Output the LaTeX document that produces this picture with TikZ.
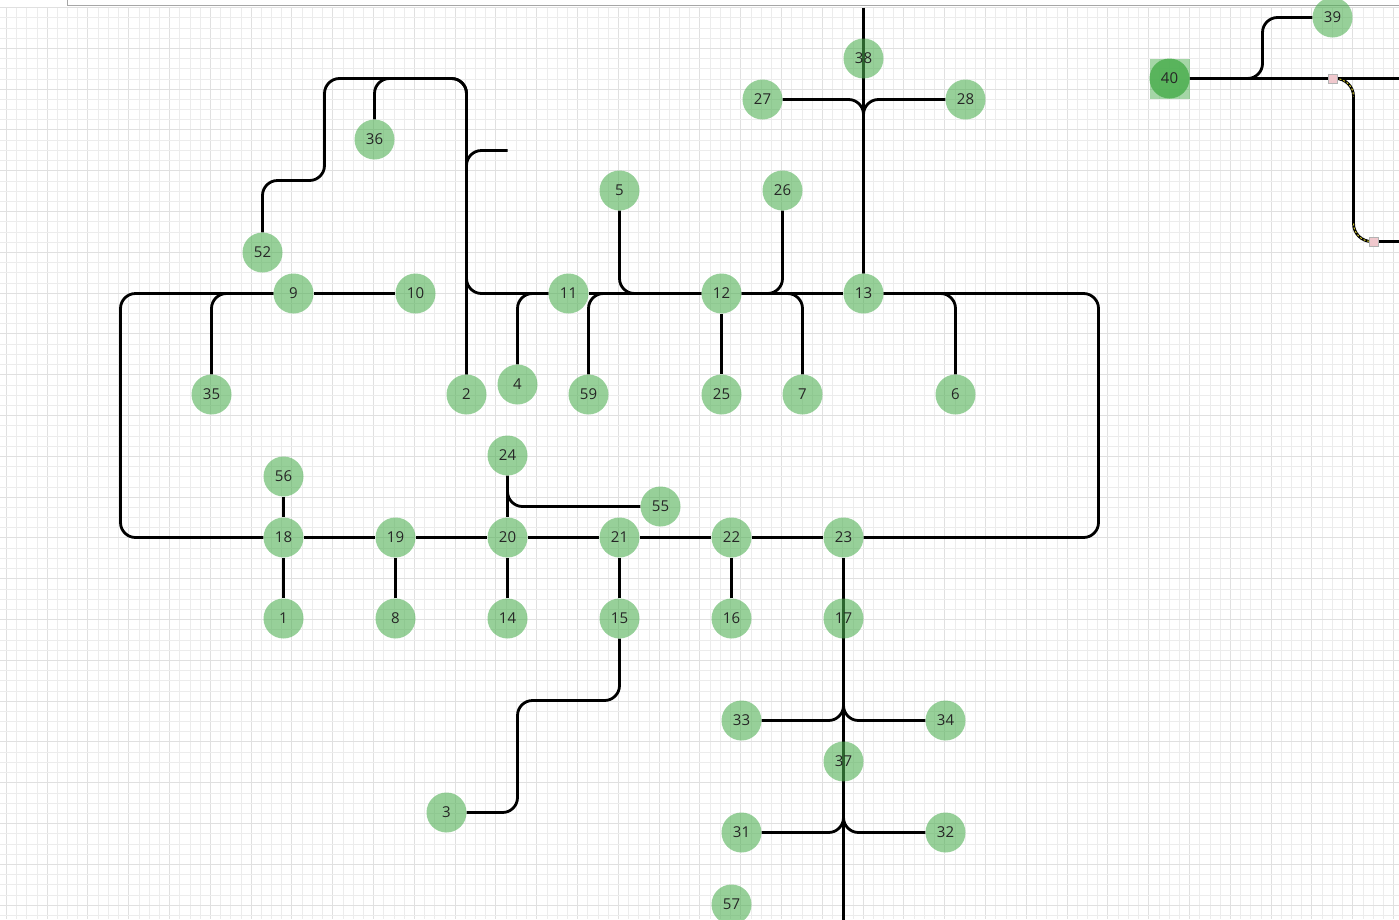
\documentclass[tikz,border=0pt]{standalone}
\usepackage{fontspec}
\setmainfont{Open Sans}
\definecolor{ndgreen}{RGB}{76,175,80}
\definecolor{gridminor}{RGB}{236,236,236}
\definecolor{gridmajor}{RGB}{224,224,224}
\definecolor{selpink}{RGB}{240,200,205}
\begin{document}
\begin{tikzpicture}[x=1pt,y=-1pt,
  nd/.style={circle, minimum size=40pt, inner sep=0pt, fill=ndgreen, fill opacity=0.58, text opacity=1,
             font=\fontsize{15}{17}\selectfont, text=black!85},
  ln/.style={line width=2.8pt, rounded corners=15pt},
  handle/.style={draw=gray!60, fill=selpink, line width=0.6pt, minimum size=9pt, inner sep=0pt, rectangle}
]
\useasboundingbox (0,0) rectangle (1399,919);
\fill[white] (0,0) rectangle (1399,919);
% grid
\foreach \i in {-84,...,52}{
  \pgfmathtruncatemacro\m{mod(\i+400,4)}
  \ifnum\m=0 \draw[gridmajor,line width=0.8pt] ({863+\i*10.2},7) -- ({863+\i*10.2},919);
  \else \draw[gridminor,line width=0.6pt] ({863+\i*10.2},7) -- ({863+\i*10.2},919); \fi
}
\foreach \j in {-28,...,61}{
  \pgfmathtruncatemacro\m{mod(\j+400,4)}
  \ifnum\m=0 \draw[gridmajor,line width=0.8pt] (0,{293+\j*10.2}) -- (1399,{293+\j*10.2});
  \else \draw[gridminor,line width=0.6pt] (0,{293+\j*10.2}) -- (1399,{293+\j*10.2}); \fi
}
% top bar
\fill[white] (0,0) rectangle (1399,5.5);
\draw[gray!70,line width=1pt] (67,0) -- (67,5.5) -- (1399,5.5);

\pgfdeclarelayer{front}
\pgfsetlayers{main,front}
\begin{scope}[shift={(0.5,0.5)}]
\begin{pgfonlayer}{front}
\node[nd] (n38) at (863,58) {38};
\node[nd] (n27) at (762,99) {27};
\node[nd] (n28) at (965,99) {28};
\node[nd] (n39) at (1332,17) {39};
\node[rectangle, minimum size=40pt, inner sep=0pt, fill=ndgreen, fill opacity=0.5] (n40sq) at (1169,78) {};
\node[nd, fill opacity=0.85] (n40) at (1169,78) {40};
\node[nd] (n36) at (374,139) {36};
\node[nd] (n5) at (619,190) {5};
\node[nd] (n26) at (782,190) {26};
\node[nd] (n52) at (262,252) {52};
\node[nd] (n9) at (293,293) {9};
\node[nd] (n10) at (415,293) {10};
\node[nd] (n11) at (568,293) {11};
\node[nd] (n12) at (721,293) {12};
\node[nd] (n13) at (863,293) {13};
\node[nd] (n35) at (211,394) {35};
\node[nd] (n2) at (466,394) {2};
\node[nd] (n4) at (517,384) {4};
\node[nd] (n59) at (588,394) {59};
\node[nd] (n25) at (721,394) {25};
\node[nd] (n7) at (802,394) {7};
\node[nd] (n6) at (955,394) {6};
\node[nd] (n24) at (507,455) {24};
\node[nd] (n55) at (660,506) {55};
\node[nd] (n56) at (283,476) {56};
\node[nd] (n18) at (283,537) {18};
\node[nd] (n19) at (395,537) {19};
\node[nd] (n20) at (507,537) {20};
\node[nd] (n21) at (619,537) {21};
\node[nd] (n22) at (731,537) {22};
\node[nd] (n23) at (843,537) {23};
\node[nd] (n1) at (283,618) {1};
\node[nd] (n8) at (395,618) {8};
\node[nd] (n14) at (507,618) {14};
\node[nd] (n15) at (619,618) {15};
\node[nd] (n16) at (731,618) {16};
\node[nd] (n17) at (843,618) {17};
\node[nd] (n33) at (741,720) {33};
\node[nd] (n34) at (945,720) {34};
\node[nd] (n37) at (843,761) {37};
\node[nd] (n31) at (741,832) {31};
\node[nd] (n32) at (945,832) {32};
\node[nd] (n3) at (446,812) {3};
\node[nd] (n57) at (731,904) {57};
\end{pgfonlayer}

% free ends
\coordinate (ctop) at (863,7);
\coordinate (cbot) at (843,919);
\coordinate (c150) at (507,150);
\coordinate (cr40) at (1399,78);
\coordinate (cs1) at (1332,78);
\coordinate (cs2) at (1373,241);
\coordinate (cr241) at (1399,241);

% connectors
\draw[ln] (ctop) -- (n13);
\draw[ln] (n27) -| (n13);
\draw[ln] (n28) -| (n13);
\draw[ln] (n40) -- (cr40);
\draw[ln] (n40) -- (1262,78) -- (1262,17) -- (n39);
\draw[ln, rounded corners=18pt] (cs1) -- (1353,78) -- (1353,241) -- (cr241);
\draw[yellow!80!black, line width=1pt, dash pattern=on 2pt off 2pt] (1335,78) arc (-90:0:18);
\draw[yellow!80!black, line width=1pt, dash pattern=on 2pt off 2pt] (1353,223) arc (180:90:18);
\node[handle] (h1) at (cs1) {};
\node[handle] (h2) at (cs2) {};

\draw[ln] (n52) -- (262,180) -- (324,180) -- (324,78) -- (466,78) -- (n2);
\draw[ln] (n36) -- (374,78) -- (466,78) -- (n2);
\draw[ln] (c150) -- (466,150) -- (466,293) -- (n11);

\draw[ln] (n9) -- (n10);
\draw[ln] (n9) -- (120,293) -- (120,537) -- (n18);
\draw[ln] (n35) |- (n9);
\draw[ln] (n11) -- (n12);
\draw[ln] (n4) |- (n11);
\draw[ln] (n59) |- (n12);
\draw[ln] (n5) |- (n12);
\draw[ln] (n26) |- (n12);
\draw[ln] (n12) -- (n25);
\draw[ln] (n12) -| (n7);
\draw[ln] (n12) -- (n13);
\draw[ln] (n13) -| (n6);
\draw[ln] (n13) -- (1098,293) -- (1098,537) -- (n23);

\draw[ln] (n18) -- (n19);
\draw[ln] (n19) -- (n20);
\draw[ln] (n20) -- (n21);
\draw[ln] (n21) -- (n22);
\draw[ln] (n22) -- (n23);
\draw[ln] (n56) -- (n18);
\draw[ln] (n18) -- (n1);
\draw[ln] (n19) -- (n8);
\draw[ln] (n20) -- (n14);
\draw[ln] (n21) -- (n15);
\draw[ln] (n22) -- (n16);
\draw[ln] (n24) -- (n20);
\draw[ln] (n24) |- (n55);
\draw[ln] (n15) -- (619,700) -- (517,700) -- (517,812) -- (n3);

\draw[ln] (n23) -- (cbot);
\draw[ln] (n33) -| (n17);
\draw[ln] (n34) -| (n17);
\draw[ln] (n31) -| (n37);
\draw[ln] (n32) -| (n37);
\end{scope}
\end{tikzpicture}
\end{document}
